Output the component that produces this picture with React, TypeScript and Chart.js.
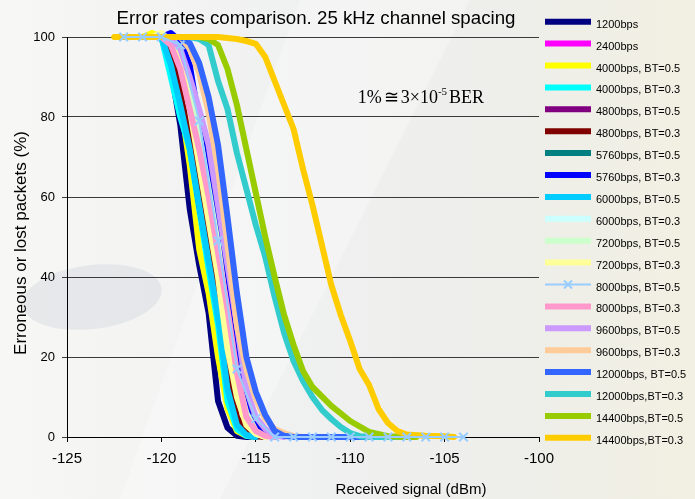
import React, { useEffect, useRef } from "react";
import { Chart, registerables } from "chart.js";

Chart.register(...registerables);

type P = [number, number];

// ---- data (x = received signal dBm, y = erroneous or lost packets %) ----
const s1200: P[] = [[-122, 100], [-120, 100], [-119.5, 92], [-119, 78], [-118.5, 57], [-118, 43], [-117.5, 31], [-117, 9], [-116.5, 2.3], [-116, 0.3], [-115.5, 0], [-115, 0]];
const s2400: P[] = [[-122, 100], [-119.5, 100], [-119, 97], [-118.5, 90], [-118, 80], [-117.5, 68], [-117, 55], [-116.5, 36], [-116, 18], [-115.5, 8], [-115, 3], [-114.5, 0.8], [-114, 0]];
const s4000b5: P[] = [[-122, 100], [-121, 100], [-120.5, 101], [-120, 100], [-119.5, 95], [-119, 84], [-118.5, 68], [-118, 47], [-117.5, 36], [-117, 20], [-116.5, 7], [-116, 1.5], [-115.5, 0.3], [-115, 0]];
const s4000b3: P[] = [[-122, 100], [-120, 100], [-119.5, 90], [-119, 80], [-118.5, 72], [-118, 57], [-117.5, 42], [-117, 28], [-116.5, 9], [-116, 2], [-115.5, 0.3], [-115, 0]];
const s4800b5: P[] = [[-122, 100], [-120, 100], [-119.5, 96], [-119, 87], [-118.5, 74], [-118, 58], [-117.5, 45], [-117, 32], [-116.5, 14], [-116, 4], [-115.5, 0.8], [-115, 0]];
const s4800b3: P[] = [[-122, 100], [-120, 100], [-119.5, 97], [-119, 89], [-118.5, 77], [-118, 63], [-117.5, 50], [-117, 38], [-116.5, 18], [-116, 5], [-115.5, 1], [-115, 0.2], [-114.5, 0]];
const s5760b5: P[] = [[-122, 100], [-119.5, 100], [-119, 97], [-118.5, 90], [-118, 78], [-117.5, 64], [-117, 48], [-116.5, 30], [-116, 20], [-115.5, 11], [-115, 3.5], [-114.5, 0.8], [-114, 0]];
const s5760b3: P[] = [[-122, 100], [-120, 100], [-119.5, 101], [-119, 99], [-118.5, 93], [-118, 79], [-117.5, 66], [-117, 52], [-116.5, 34], [-116, 18], [-115.5, 8], [-115, 2.5], [-114.5, 0.5], [-114, 0]];
const s6000b5: P[] = [[-122, 100], [-120, 100], [-119.5, 93], [-119, 83], [-118.5, 72], [-118, 58], [-117.5, 44], [-117, 30], [-116.5, 12], [-116, 3], [-115.5, 0.5], [-115, 0]];
const s6000b3: P[] = [[-122, 100], [-119.5, 100], [-119, 95], [-118.5, 84], [-118, 72], [-117.5, 58], [-117, 45], [-116.5, 28], [-116, 14], [-115.5, 5], [-115, 1], [-114.5, 0]];
const s7200b5: P[] = [[-122, 100], [-119.5, 100], [-119, 96], [-118.5, 86], [-118, 76], [-117.5, 62], [-117, 48], [-116.5, 30], [-116, 15], [-115.5, 6], [-115, 1.5], [-114.5, 0]];
const s7200b3: P[] = [[-122, 100], [-120.5, 100], [-120, 101], [-119.5, 99], [-119, 94], [-118.5, 82], [-118, 68], [-117.5, 54], [-117, 40], [-116.5, 22], [-116, 10], [-115.5, 3], [-115, 0.8], [-114.5, 0]];
const s8000b5: P[] = [[-122, 100], [-121, 100], [-120, 100], [-119, 98], [-118, 79], [-117, 49], [-116, 17], [-115, 4.6], [-114, 0], [-113, 0], [-112, 0], [-111, 0], [-110, 0], [-109, 0], [-108, 0], [-107, 0], [-106, 0], [-105, 0], [-104, 0]];
const s8000b3: P[] = [[-122, 100], [-120, 100], [-119.5, 98], [-119, 92], [-118.5, 82], [-118, 72], [-117.5, 60], [-117, 46], [-116.5, 32], [-116, 16], [-115.5, 5], [-115, 1.5], [-114.5, 0.3], [-114, 0]];
const s9600b5: P[] = [[-122, 100], [-119.5, 100], [-119, 97], [-118.5, 90], [-118, 82], [-117.5, 73], [-117, 58], [-116.5, 43], [-116, 28], [-115.5, 12], [-115, 5], [-114.5, 2], [-114, 0.5], [-113.5, 0]];
const s9600b3: P[] = [[-122, 100], [-119, 100], [-118.5, 97], [-118, 91], [-117.5, 81], [-117, 67], [-116.5, 48], [-116, 28], [-115.5, 17], [-115, 9.5], [-114.5, 4.5], [-114, 2], [-113.5, 1], [-113, 0.2], [-112.5, 0]];
const s12000b5: P[] = [[-122, 100], [-119, 100], [-118.5, 98.5], [-118, 93.5], [-117.5, 85], [-117, 73], [-116.5, 55], [-116, 36], [-115.5, 20], [-115, 11.3], [-114.5, 5.5], [-114, 1.5], [-113.5, 0.3], [-113, 0], [-111, 0], [-109, 0]];
const s12000b3: P[] = [[-122, 100], [-118.5, 100], [-118, 99.5], [-117.5, 98], [-117, 89], [-116.5, 82], [-116, 71], [-115.5, 62], [-115, 53], [-114.5, 45], [-114, 35], [-113.5, 26], [-113, 19], [-112.5, 14], [-112, 10], [-111.5, 6.8], [-111, 4.5], [-110.5, 2.5], [-110, 1], [-109.5, 0.2], [-109, 0], [-107, 0]];
const s14400b5: P[] = [[-122, 100], [-118, 100], [-117.5, 99.5], [-117, 98], [-116.5, 92], [-116, 83], [-115.5, 72], [-115, 61], [-114.5, 50], [-114, 40], [-113.5, 30.5], [-113, 23], [-112.5, 16.5], [-112, 12.5], [-111, 7.8], [-110, 4], [-109, 1.3], [-108, 0.2], [-107, 0], [-106.5, 0]];
const s14400b3: P[] = [[-122.5, 100], [-117, 100], [-116, 99.5], [-115.5, 99], [-115, 98.3], [-114.5, 95], [-114, 89], [-113.5, 83], [-113, 77], [-112.5, 67], [-112, 58], [-111.5, 48], [-111, 38], [-110.5, 30.5], [-110, 24], [-109.5, 17], [-109, 13], [-108.5, 7], [-108, 3.5], [-107.5, 1.5], [-107, 0.6], [-106, 0.3], [-105, 0.2], [-104.5, 0]];

const SERIES_LABELS = [
  "1200bps", "2400bps", "4000bps, BT=0.5", "4000bps, BT=0.3", "4800bps, BT=0.5",
  "4800bps, BT=0.3", "5760bps, BT=0.5", "5760bps, BT=0.3", "6000bps, BT=0.5", "6000bps, BT=0.3",
  "7200bps, BT=0.5", "7200bps, BT=0.3", "8000bps, BT=0.5", "8000bps, BT=0.3", "9600bps, BT=0.5",
  "9600bps, BT=0.3", "12000bps, BT=0.5", "12000bps,BT=0.3", "14400bps,BT=0.5", "14400bps,BT=0.3",
];
const SERIES_COLORS = [
  "#000080", "#FF00FF", "#FFFF00", "#00FFFF", "#800080",
  "#800000", "#008080", "#0000FF", "#00CCFF", "#CCFFFF",
  "#CCFFCC", "#FFFF99", "#99CCFF", "#FF99CC", "#CC99FF",
  "#FFCC99", "#3366FF", "#33CCCC", "#99CC00", "#FFCC00",
];
const SERIES_DATA: P[][] = [
  s1200, s2400, s4000b5, s4000b3, s4800b5, s4800b3, s5760b5, s5760b3, s6000b5, s6000b3,
  s7200b5, s7200b3, s8000b5, s8000b3, s9600b5, s9600b3, s12000b5, s12000b3, s14400b5, s14400b3,
];
const MARKER_SERIES = 12; // 8000bps, BT=0.5 drawn thin with x markers

const X_TICKS = [-125, -120, -115, -110, -105, -100];
const Y_TICKS = [0, 20, 40, 60, 80, 100];

const TITLE = "Error rates comparison. 25 kHz channel spacing";
const X_TITLE = "Received signal (dBm)";
const Y_TITLE = "Erroneous or lost packets (%)";

const W = 695;
const H = 499;
const SANS = '"Liberation Sans", Arial, sans-serif';
const SERIF = '"Liberation Serif", "Times New Roman", serif';

const decorPlugin = {
  id: "decor",
  beforeDraw(chart: any) {
    const ctx = chart.ctx as CanvasRenderingContext2D;
    ctx.save();
    const g = ctx.createLinearGradient(0, 0, W, 0);
    g.addColorStop(0, "#f7f7f5");
    g.addColorStop(0.45, "#eff0f0");
    g.addColorStop(0.75, "#eeeeea");
    g.addColorStop(1, "#f2f0e2");
    ctx.fillStyle = g;
    ctx.fillRect(0, 0, W, H);
    // soft diagonal light band
    ctx.fillStyle = "rgba(255,255,255,0.3)";
    ctx.beginPath();
    ctx.moveTo(300, 0);
    ctx.lineTo(470, 0);
    ctx.lineTo(220, 499);
    ctx.lineTo(120, 499);
    ctx.closePath();
    ctx.fill();
    // grey swoosh on left
    ctx.fillStyle = "rgba(214,218,224,0.5)";
    ctx.beginPath();
    ctx.ellipse(92, 297, 70, 32, -0.12, 0, Math.PI * 2);
    ctx.fill();
    ctx.restore();
  },
  afterDraw(chart: any) {
    const ctx = chart.ctx as CanvasRenderingContext2D;
    const xs = chart.scales.x;
    const ys = chart.scales.y;
    ctx.save();
    ctx.fillStyle = "#000";
    // title
    ctx.font = `18.7px ${SANS}`;
    ctx.textAlign = "center";
    ctx.textBaseline = "middle";
    ctx.fillText(TITLE, 316, 19);
    // x title
    ctx.font = `15px ${SANS}`;
    ctx.fillText(X_TITLE, 411, 490);
    // y title
    ctx.save();
    ctx.translate(21, 243);
    ctx.rotate(-Math.PI / 2);
    ctx.font = `17px ${SANS}`;
    ctx.fillText(Y_TITLE, 0, 0);
    ctx.restore();

    // annotation 1% ≅ 3x10^-5 BER
    const ax = xs.getPixelForValue(-109.6);
    const ay = ys.getPixelForValue(84.6);
    ctx.textAlign = "left";
    ctx.textBaseline = "middle";
    ctx.font = `18px ${SERIF}`;
    let cx = ax;
    const part = (t: string, gap: number) => {
      ctx.fillText(t, cx, ay);
      cx += ctx.measureText(t).width + gap;
    };
    part("1%", 2);
    part("\u2245", 2);
    part("3\u00d710", 0);
    ctx.font = `11px ${SERIF}`;
    ctx.fillText("-5", cx, ay - 6);
    cx += ctx.measureText("-5").width + 2;
    ctx.font = `18px ${SERIF}`;
    ctx.fillText("BER", cx, ay);

    // legend
    const lx0 = 545;
    const lx1 = 591;
    const ly0 = 21.7;
    const step = 21.9;
    ctx.font = `11px ${SANS}`;
    ctx.textBaseline = "middle";
    SERIES_LABELS.forEach((lab, i) => {
      const y = ly0 + i * step;
      ctx.strokeStyle = SERIES_COLORS[i];
      ctx.lineCap = "butt";
      if (i === MARKER_SERIES) {
        ctx.lineWidth = 2;
        ctx.beginPath();
        ctx.moveTo(lx0, y);
        ctx.lineTo(lx1, y);
        ctx.stroke();
        const mx = (lx0 + lx1) / 2;
        ctx.beginPath();
        ctx.moveTo(mx - 4, y - 4);
        ctx.lineTo(mx + 4, y + 4);
        ctx.moveTo(mx - 4, y + 4);
        ctx.lineTo(mx + 4, y - 4);
        ctx.stroke();
      } else {
        ctx.lineWidth = 6;
        ctx.beginPath();
        ctx.moveTo(lx0, y);
        ctx.lineTo(lx1, y);
        ctx.stroke();
      }
      ctx.fillStyle = "#000";
      ctx.fillText(lab, 596, y + 3);
    });
    ctx.restore();
  },
};

export default function App() {
  const ref = useRef<HTMLCanvasElement | null>(null);
  useEffect(() => {
    if (!ref.current) return;
    const n = SERIES_DATA.length;
    const datasets = SERIES_DATA.map((pts, i) => {
      const marker = i === MARKER_SERIES;
      return {
        label: SERIES_LABELS[i],
        data: pts.map(([x, y]) => ({ x, y })),
        borderColor: SERIES_COLORS[i],
        backgroundColor: SERIES_COLORS[i],
        borderWidth: marker ? 2 : 6,
        pointRadius: marker ? 6 : 0,
        pointHoverRadius: 0,
        pointStyle: "crossRot",
        pointBorderWidth: 2,
        pointBorderColor: SERIES_COLORS[i],
        tension: 0,
        borderJoinStyle: "round",
        borderCapStyle: "round",
        clip: false,
        order: marker ? -1 : n - i,
      };
    });
    const chart = new Chart(ref.current, {
      type: "line",
      data: { datasets } as any,
      plugins: [decorPlugin],
      options: {
        animation: false,
        responsive: false,
        devicePixelRatio: 1,
        layout: { padding: { left: 0, top: 37, right: W - 539, bottom: 0 } },
        plugins: { legend: { display: false }, tooltip: { enabled: false }, title: { display: false } },
        scales: {
          x: {
            type: "linear",
            min: -125,
            max: -100,
            afterBuildTicks: (s: any) => {
              s.ticks = X_TICKS.map((v) => ({ value: v }));
            },
            afterFit: (s: any) => {
              s.height = H - 437;
            },
            ticks: {
              color: "#000",
              font: { family: SANS, size: 15 },
              padding: 8,
              maxRotation: 0,
              autoSkip: false,
              callback: (v: any) => String(v),
            },
            grid: { drawOnChartArea: false, drawTicks: true, tickLength: 5, color: "#000", lineWidth: 1 },
            border: { display: true, color: "#000", width: 1 },
          },
          y: {
            type: "linear",
            min: 0,
            max: 100,
            afterBuildTicks: (s: any) => {
              s.ticks = Y_TICKS.map((v) => ({ value: v }));
            },
            afterFit: (s: any) => {
              s.width = 67;
            },
            ticks: {
              color: "#000",
              font: { family: SANS, size: 13 },
              padding: 7,
              autoSkip: false,
              callback: (v: any) => String(v),
            },
            grid: { drawTicks: true, tickLength: 5, color: "#3a3a3a", lineWidth: 1 },
            border: { display: true, color: "#000", width: 1 },
          },
        },
      } as any,
    });
    return () => chart.destroy();
  }, []);
  return (
    <div style={{ position: "absolute", left: 0, top: 0, width: W, height: H }}>
      <canvas ref={ref} width={W} height={H} style={{ display: "block", width: W, height: H }} />
    </div>
  );
}
